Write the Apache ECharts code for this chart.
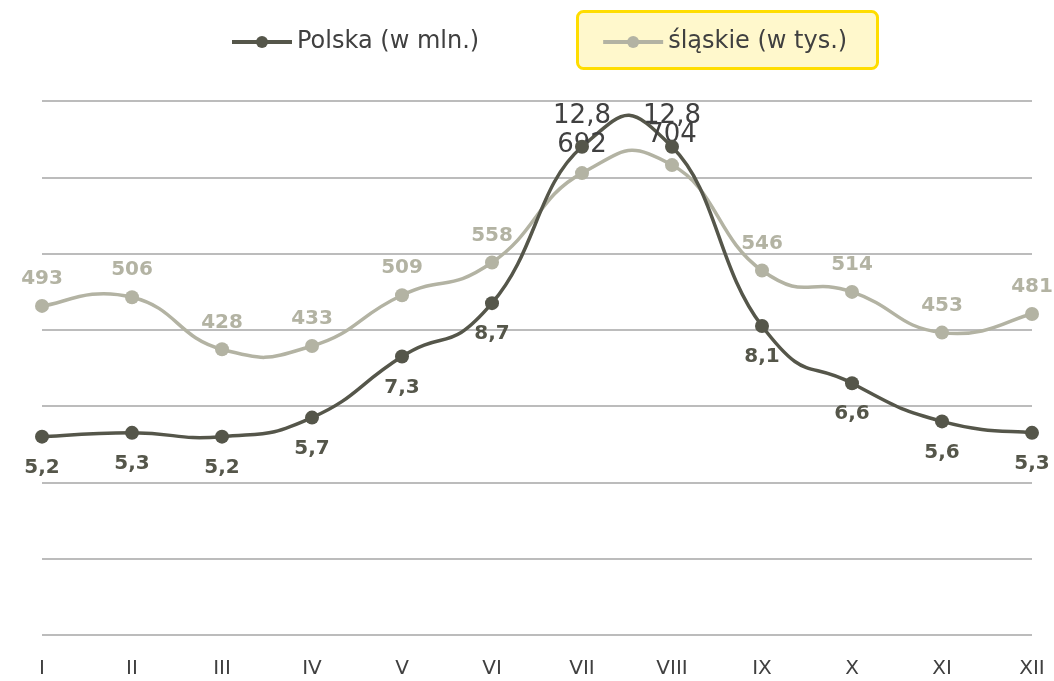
<!DOCTYPE html>
<html><head><meta charset="utf-8">
<script src="https://cdn.jsdelivr.net/npm/echarts@6/dist/echarts.min.js"></script>
<style>html,body{margin:0;padding:0;background:#fff}#c{width:1054px;height:681px}</style>
</head><body><div id="c"></div>
<script>
const categories = ['I','II','III','IV','V','VI','VII','VIII','IX','X','XI','XII'];
const polska = [5.2, 5.3, 5.2, 5.7, 7.3, 8.7, 12.8, 12.8, 8.1, 6.6, 5.6, 5.3];
const slaskie = [493, 506, 428, 433, 509, 558, 692, 704, 546, 514, 453, 481];
const polskaName = 'Polska (w mln.)';
const slaskieName = 'śląskie (w tys.)';
const specialIdx = [6, 7];

const FONT = 'DejaVu Sans';
const DARK = '#55564a';
const LIGHT = '#b3b3a3';
const TENSION = 0.25;

function curveRenderer(values, color) {
  const n = values.length;
  return function (params, api) {
    const i = params.dataIndex;
    if (i >= n - 1) return null;
    const P = k => { const c = Math.max(0, Math.min(n - 1, k)); return api.coord([c, values[c]]); };
    const p0 = P(i - 1), p1 = P(i), p2 = P(i + 1), p3 = P(i + 2);
    return {
      type: 'bezierCurve',
      shape: {
        x1: p1[0], y1: p1[1], x2: p2[0], y2: p2[1],
        cpx1: p1[0] + (p2[0] - p0[0]) * TENSION, cpy1: p1[1] + (p2[1] - p0[1]) * TENSION,
        cpx2: p2[0] - (p3[0] - p1[0]) * TENSION, cpy2: p2[1] - (p3[1] - p1[1]) * TENSION
      },
      style: {stroke: color, lineWidth: 3.5, fill: null, lineCap: 'round'}
    };
  };
}

const specialTop = (dist) => ({fontWeight: 'normal', fontSize: 26, color: '#404040', position: 'top', distance: dist});

const chart = echarts.init(document.getElementById('c'), null, {renderer: 'canvas'});
chart.setOption({
  animation: false,
  textStyle: {fontFamily: FONT},
  graphic: [{
    type: 'rect', z: 0, left: 576, top: 10,
    shape: {width: 300, height: 57, r: 6},
    style: {fill: '#fff8cc', stroke: '#ffdd00', lineWidth: 3}
  }],
  legend: {
    top: 25, left: 225, itemWidth: 60, itemHeight: 15, itemGap: 122,
    textStyle: {fontSize: 24, color: '#404040', fontFamily: FONT},
    data: [
      {name: polskaName, lineStyle: {color: DARK, width: 4, opacity: 1}, itemStyle: {color: DARK}},
      {name: slaskieName, lineStyle: {color: LIGHT, width: 4, opacity: 1}, itemStyle: {color: LIGHT}}
    ]
  },
  grid: {left: 42, right: 22, top: 101, bottom: 46},
  xAxis: {
    type: 'category', data: categories, boundaryGap: false,
    axisLine: {show: false}, axisTick: {show: false},
    axisLabel: {fontSize: 20, color: '#404040', margin: 24, fontFamily: FONT}
  },
  yAxis: [
    {type: 'value', min: 0, max: 14, interval: 2,
     axisLabel: {show: false}, axisLine: {show: false}, axisTick: {show: false},
     splitLine: {lineStyle: {color: '#a6a6a6', width: 1.5}}},
    {type: 'value', min: 0, max: 800, show: false, splitLine: {show: false}}
  ],
  series: [
    {
      name: 'slaskie_curve', type: 'custom', yAxisIndex: 1, z: 1,
      renderItem: curveRenderer(slaskie, LIGHT),
      data: slaskie.map((v, i) => [i, v]), silent: true
    },
    {
      name: 'polska_curve', type: 'custom', yAxisIndex: 0, z: 1,
      renderItem: curveRenderer(polska, DARK),
      data: polska.map((v, i) => [i, v]), silent: true
    },
    {
      name: slaskieName, type: 'line', yAxisIndex: 1,
      symbol: 'circle', symbolSize: 14,
      lineStyle: {color: LIGHT, width: 0, opacity: 0},
      itemStyle: {color: LIGHT},
      label: {show: true, position: 'top', distance: 10, fontSize: 20, fontWeight: 'bold', color: LIGHT, fontFamily: FONT},
      data: slaskie.map((v, i) => specialIdx.includes(i) ? {value: v, label: specialTop(i === 6 ? 8 : 10)} : v),
      z: 2
    },
    {
      name: polskaName, type: 'line', yAxisIndex: 0,
      symbol: 'circle', symbolSize: 14,
      lineStyle: {color: DARK, width: 0, opacity: 0},
      itemStyle: {color: DARK},
      label: {show: true, position: 'bottom', distance: 14, fontSize: 20, fontWeight: 'bold', color: DARK, fontFamily: FONT,
        formatter: p => String(p.value).replace('.', ',')},
      data: polska.map((v, i) => specialIdx.includes(i) ? {value: v, label: specialTop(11)} : v),
      z: 3
    }
  ]
});
</script></body></html>
